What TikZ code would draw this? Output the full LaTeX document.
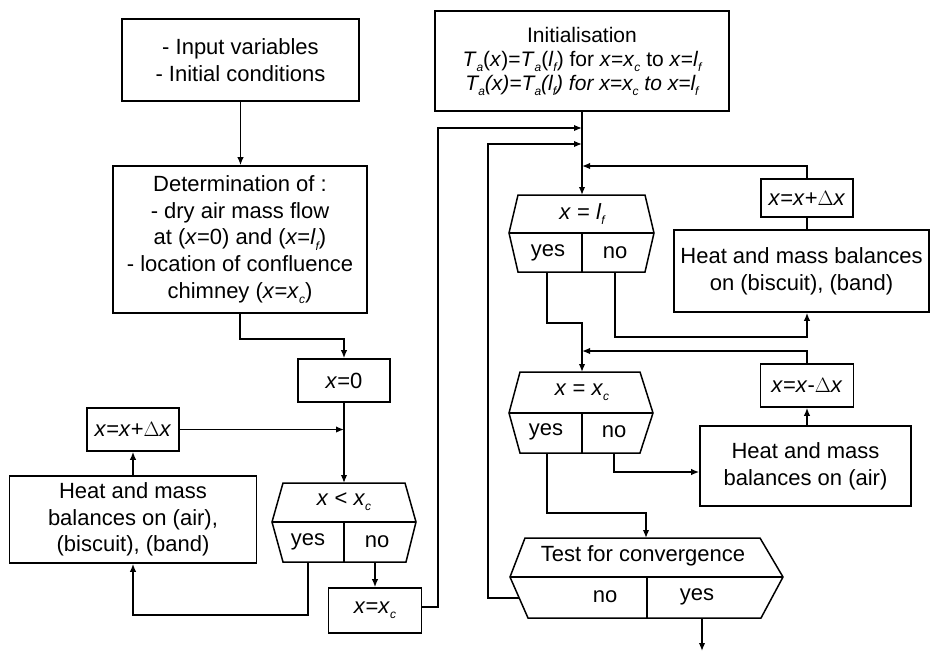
\documentclass[tikz,border=0pt]{standalone}
\usepackage{fontspec}
\setmainfont{Liberation Sans}
\usetikzlibrary{arrows.meta}
\newcommand\fs{\fontsize{22}{26.7}\selectfont}
\newcommand\fsi{\fontsize{21}{24}\selectfont}
\newcommand\ix{\textit{x}}
\newcommand\lsub[1]{\raisebox{-0.45ex}{\fontsize{12}{12}\selectfont\itshape #1}}
\begin{document}
\begin{tikzpicture}[x=1pt,y=-1pt,
  box/.style={draw, line width=1.6pt, inner sep=0pt, align=center, font=\fs},
  flow/.style={line width=1.5pt},
  arr/.style={flow, -{Latex[length=8pt,width=6.5pt]}},
  lbl/.style={inner sep=0pt, font=\fs}]
\useasboundingbox (0,0) rectangle (931,651);
\fill[white] (0,0) rectangle (931,651);

% ---------- left column: setup and first sweep ----------
\node[box, minimum width=237pt, minimum height=82pt] (input) at (240.5,60)
  {- Input variables\\- Initial conditions};
\node[box, minimum width=254pt, minimum height=147pt] (det) at (240,239.5)
  {Determination of :\\- dry air mass flow\\at (\ix=0) and (\ix=\textit{l}\lsub{f})\\- location of confluence\\chimney (\ix=\ix\lsub{c})};
\node[box, minimum width=92pt, minimum height=43pt] (x0) at (344,380.5) {\ix=0};
\node[box, minimum width=92pt, minimum height=43pt] (incL) at (133,429.5) {\ix=\ix+$\Delta$\ix};
\node[box, minimum width=247pt, minimum height=87pt] (heatL) at (133,519.5)
  {Heat and mass\\balances on (air),\\(biscuit), (band)};
\node[box, minimum width=93pt, minimum height=45pt] (xcL) at (375,610.5) {\ix=\ix\lsub{c}};

% decision x < x_c
\draw[flow] (283,483) -- (405,483) -- (416,522) -- (406,562) -- (283,562) -- (272,522) -- cycle;
\draw[flow] (272,522) -- (416,522);
\draw[flow] (344,522) -- (344,562);
\node[lbl] (dltq) at (344,502) {\ix\ < \ix\lsub{c}};
\node[lbl] (dlty) at (308,542) {yes};
\node[lbl] (dltn) at (377,542) {no};
\coordinate (dlt-in) at (344,483);
\coordinate (dlt-yes) at (308,562);
\coordinate (dlt-no) at (375,562);

\draw[arr] (input.south) -- (input.south |- det.north);
\draw[arr] (det.south) -- ++(0,25) -| (x0.north);
\draw[arr] (x0.south) -- (dlt-in);
\draw[arr] (incL.east) -- (incL.east -| x0.south);
\draw[arr] (heatL.north) -- (incL.south);
\draw[arr] (dlt-yes) -- ++(0,53) -| (heatL.south);
\draw[arr] (dlt-no) -- (xcL.north);

% ---------- right column: iteration ----------
\node[box, minimum width=294pt, minimum height=100pt, font=\fsi] (init) at (582,61)
  {Initialisation\\
   \textit{T}\lsub{a}(\ix)=\textit{T}\lsub{a}(\textit{l}\lsub{f}) for \ix=\ix\lsub{c} to \ix=\textit{l}\lsub{f}\\
   \itshape T\lsub{a}(x)=T\lsub{a}(l\lsub{f}) for x=x\lsub{c} to x=l\lsub{f}};
\node[box, minimum width=92pt, minimum height=38pt] (incR) at (807,198) {\ix=\ix+$\Delta$\ix};
\node[box, minimum width=255pt, minimum height=82pt] (heatR) at (801.5,271)
  {Heat and mass balances\\on (biscuit), (band)};
\node[box, minimum width=93pt, minimum height=43pt] (decR) at (807,385.5) {\ix=\ix-$\Delta$\ix};
\node[box, minimum width=211pt, minimum height=80pt] (heatA) at (805.5,466)
  {Heat and mass\\balances on (air)};

% decision x = l_f
\draw[flow] (518,195) -- (645,195) -- (654,233) -- (645,272) -- (518,272) -- (509,233) -- cycle;
\draw[flow] (509,233) -- (654,233);
\draw[flow] (582,233) -- (582,272);
\node[lbl] (dlfq) at (582,214) {\ix\ = \textit{l}\lsub{f}};
\node[lbl] (dlfy) at (548,253) {yes};
\node[lbl] (dlfn) at (615,253) {no};
\coordinate (dlf-in) at (582,195);
\coordinate (dlf-yes) at (547,272);
\coordinate (dlf-no) at (615,272);

% decision x = x_c
\draw[flow] (520,372) -- (640,372) -- (653,413) -- (640,453) -- (520,453) -- (509,413) -- cycle;
\draw[flow] (509,413) -- (653,413);
\draw[flow] (582,413) -- (582,453);
\node[lbl] (dxcq) at (582,392) {\ix\ = \ix\lsub{c}};
\node[lbl] (dxcy) at (546,432) {yes};
\node[lbl] (dxcn) at (614,432) {no};
\coordinate (dxc-in) at (582,372);
\coordinate (dxc-yes) at (547,453);
\coordinate (dxc-no) at (614,453);

% test for convergence
\draw[flow] (525,538) -- (760,538) -- (783,577) -- (761,618) -- (528,618) -- (510,577) -- cycle;
\draw[flow] (510,577) -- (783,577);
\draw[flow] (647,577) -- (647,618);
\node[lbl] (testq) at (643,556) {Test for convergence};
\node[lbl] (testn) at (605,597) {no};
\node[lbl] (testy) at (697,597) {yes};
\coordinate (test-in) at (646,538);
\coordinate (test-yes) at (702,618);
\coordinate (test-no) at (519,598);
\coordinate (out) at (702,651);

% merge points on the main vertical line
\coordinate (m1) at (582,128);
\coordinate (m2) at (582,144);
\coordinate (m3) at (582,166);
\coordinate (m4) at (582,351);
\coordinate (loopA) at (438,128);
\coordinate (loopB) at (488,598);

\draw[arr] (init.south) -- (dlf-in);
\draw[arr] ([yshift=3.5pt]xcL.east) -| (loopA) -- (m1);
\draw[arr] (test-no) -- (loopB) |- (m2);
\draw[arr] (incR.north) |- (m3);
\draw[flow] (incR.south) -- (incR.south |- heatR.north);
\draw[arr] (dlf-no) -- ++(0,65) -| (incR.south |- heatR.south);
\draw[arr] (dlf-yes) -- ++(0,51) -| (dxc-in);
\draw[arr] (decR.north) |- (m4);
\draw[arr] (decR.south |- heatA.north) -- (decR.south);
\draw[arr] (dxc-no) |- ([yshift=-6pt]heatA.west);
\draw[arr] (dxc-yes) -- ++(0,60) -| (test-in);
\draw[arr] (test-yes) -- (out);
\end{tikzpicture}
\end{document}
